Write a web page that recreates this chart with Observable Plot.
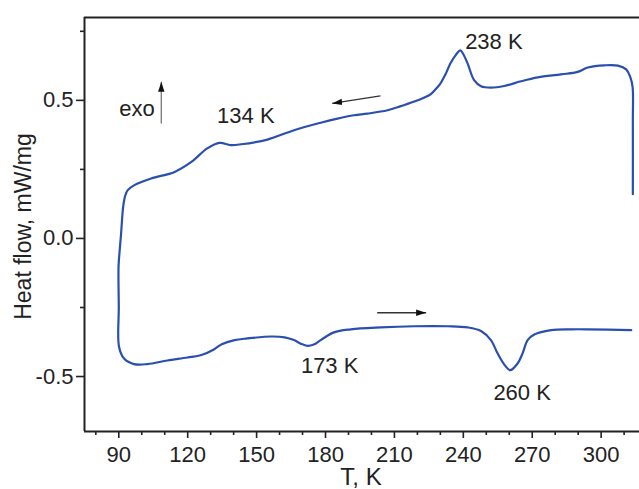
<!DOCTYPE html>
<html>
<head>
<meta charset="utf-8">
<script src="https://cdn.jsdelivr.net/npm/d3@7"></script>
<script src="https://cdn.jsdelivr.net/npm/@observablehq/plot@0.6"></script>
<style>
  html, body { margin: 0; padding: 0; background: #fff; }
</style>
</head>
<body>
<div id="chart"></div>
<script>
// Cooling run (from 313 K down to 90 K)
const coolingT = [313.8, 313.8, 313.7, 312.7, 310.9, 307.3, 301.4, 294.2, 289.8, 282.5, 272.4, 265.1, 257.8, 252.0, 247.7, 244.7, 241.9, 240.0, 238.7, 236.6, 234.4, 232.2, 230.0, 227.9, 225.7, 220.1, 212.8, 207.0, 198.3, 192.4, 185.2, 177.9, 166.3, 154.7, 143.3, 138.7, 133.9, 128.5, 121.6, 114.3, 104.1, 96.8, 93.9, 92.8, 91.9, 91.0, 90.4];
const coolingH = [0.160, 0.428, 0.548, 0.584, 0.612, 0.626, 0.627, 0.619, 0.603, 0.594, 0.583, 0.569, 0.552, 0.546, 0.551, 0.573, 0.633, 0.667, 0.681, 0.663, 0.634, 0.594, 0.561, 0.540, 0.522, 0.500, 0.479, 0.464, 0.452, 0.446, 0.434, 0.419, 0.392, 0.358, 0.341, 0.338, 0.346, 0.326, 0.277, 0.241, 0.217, 0.193, 0.175, 0.155, 0.114, 0.018, -0.042];
// Heating run (from 90 K up to 313 K)
const heatingT = [89.9, 90.0, 90.1, 92.3, 96.6, 102.4, 111.2, 119.9, 126.0, 131.4, 134.8, 140.4, 146.0, 156.4, 162.2, 166.3, 169.2, 172.1, 174.9, 177.9, 183.7, 191.0, 204.1, 218.6, 233.2, 241.9, 247.7, 252.0, 254.9, 257.7, 260.4, 263.7, 265.8, 268.0, 270.9, 278.2, 286.9, 294.2, 313.1];
const heatingH = [-0.100, -0.248, -0.392, -0.435, -0.455, -0.455, -0.442, -0.431, -0.422, -0.402, -0.383, -0.368, -0.362, -0.355, -0.358, -0.368, -0.381, -0.389, -0.384, -0.368, -0.340, -0.329, -0.322, -0.318, -0.318, -0.322, -0.335, -0.368, -0.416, -0.455, -0.477, -0.452, -0.416, -0.368, -0.348, -0.332, -0.329, -0.329, -0.332];

// Axes
const xDomain = [75.07, 316.7];
const yDomain = [-0.699, 0.800];
const xMajor = [90, 120, 150, 180, 210, 240, 270, 300];
const xMinor = [80, 100, 110, 130, 140, 160, 170, 190, 200, 220, 230, 250, 260, 280, 290, 310];
const yMajor = [-0.5, 0.0, 0.5];
const yMinor = [-0.25, 0.25, 0.75];

// Annotations
const labelText = ["exo", "134 K", "238 K", "173 K", "260 K"];
const labelT = [97.9, 145.3, 253.3, 181.8, 265.6];
const labelH = [0.469, 0.443, 0.712, -0.463, -0.561];

const arrowT1 = [108.5, 203.9, 202.5];
const arrowH1 = [0.416, 0.516, -0.269];
const arrowT2 = [108.5, 182.9, 223.8];
const arrowH2 = [0.567, 0.489, -0.269];
const arrowColor = ["#777", "#333", "#333"];

const curve = [
  ...coolingT.map((t, i) => ({T: t, H: coolingH[i]})),
  ...heatingT.map((t, i) => ({T: t, H: heatingH[i]}))
];
const labels = labelText.map((s, i) => ({label: s, T: labelT[i], H: labelH[i]}));
const arrows = arrowT1.map((t, i) => ({x1: t, y1: arrowH1[i], x2: arrowT2[i], y2: arrowH2[i], c: arrowColor[i]}));

function triangleMarker(color, context) {
  const ns = "http://www.w3.org/2000/svg";
  const m = document.createElementNS(ns, "marker");
  m.setAttribute("viewBox", "-10 -4 10 8");
  m.setAttribute("markerWidth", "10");
  m.setAttribute("markerHeight", "8");
  m.setAttribute("markerUnits", "userSpaceOnUse");
  m.setAttribute("orient", "auto");
  m.setAttribute("refX", "0");
  m.setAttribute("refY", "0");
  const p = document.createElementNS(ns, "path");
  p.setAttribute("d", "M-10,-3.2L0,0L-10,3.2Z");
  p.setAttribute("fill", "#111");
  p.setAttribute("stroke", "none");
  m.appendChild(p);
  return m;
}

const chart = Plot.plot({
  width: 639,
  height: 489,
  marginLeft: 84,
  marginRight: 0,
  marginTop: 17,
  marginBottom: 58,
  style: {fontFamily: "'Liberation Sans', Arial, sans-serif", color: "#222", background: "#fff", overflow: "visible"},
  x: {domain: xDomain},
  y: {domain: yDomain},
  marks: [
    Plot.axisX(xMajor, {tickSize: 7, tickPadding: 8, fontSize: 22, label: null, strokeWidth: 1.6}),
    Plot.axisX(xMinor, {tickSize: 4, text: null, label: null, strokeWidth: 1.6}),
    Plot.axisY(yMajor, {tickSize: 8, tickPadding: 3, fontSize: 22, label: null, tickFormat: d => d.toFixed(1), strokeWidth: 1.6}),
    Plot.axisY(yMinor, {tickSize: 4, text: null, label: null, strokeWidth: 1.6}),
    Plot.ruleX([xDomain[0]], {stroke: "#222", strokeWidth: 2}),
    Plot.ruleY([yDomain[0]], {stroke: "#222", strokeWidth: 2}),
    Plot.ruleY([yDomain[1]], {stroke: "#222", strokeWidth: 2}),
    Plot.line(curve, {x: "T", y: "H", stroke: "#2a4fae", strokeWidth: 2.2, curve: "catmull-rom"}),
    Plot.link(arrows, {x1: "x1", y1: "y1", x2: "x2", y2: "y2", stroke: "c", strokeWidth: 1.3, markerEnd: triangleMarker}),
    Plot.text(labels, {x: "T", y: "H", text: "label", fontSize: 22, fill: "#222"}),
    Plot.text(["Heat flow, mW/mg"], {frameAnchor: "left", textAnchor: "middle", lineAnchor: "middle", dx: -61, dy: 2, rotate: -90, fontSize: 23, fill: "#222"}),
    Plot.text(["T, K"], {frameAnchor: "bottom", textAnchor: "middle", lineAnchor: "middle", dy: 46, dx: -1, fontSize: 24, fill: "#222"})
  ]
});
document.getElementById("chart").appendChild(chart);
</script>
</body>
</html>
